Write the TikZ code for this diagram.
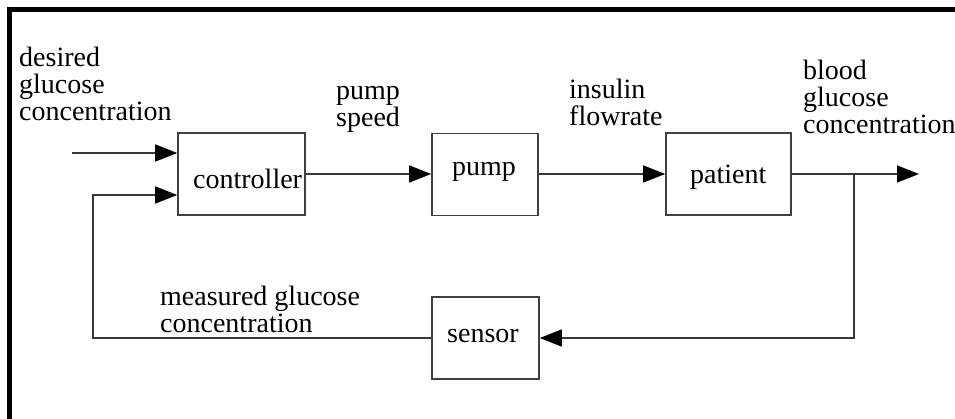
\documentclass[tikz,border=0pt]{standalone}
\usepackage{fontspec}
\setmainfont{Liberation Serif}
\usetikzlibrary{arrows.meta}
\begin{document}
\begin{tikzpicture}[x=1pt,y=-1pt,
  blk/.style={draw=black!75, line width=1.6pt, inner sep=0pt, minimum height=82pt},
  txt/.style={font=\fontsize{28}{27}\selectfont, inner sep=0pt, anchor=base west, align=left, text=black},
  wire/.style={draw=black!78, line width=1.5pt},
  arr/.style={wire, -{Triangle[length=22pt,width=17pt,color=black]}}]
\useasboundingbox (0,0) rectangle (955,419);
\fill[white] (0,0) rectangle (955,419);
% frame (top and left only)
\draw[line width=4.5pt, black, line join=miter] (955,9.5) -- (9.5,9.5) -- (9.5,419);
% blocks
\node[blk, minimum width=127pt] (controller) at (241.5,174) {};
\node[blk, minimum width=106pt] (pump) at (485,174.5) {};
\node[blk, minimum width=125pt] (patient) at (728.5,174) {};
\node[blk, minimum width=107pt] (sensor) at (485.5,338) {};
% block texts
\node[txt] (ctrltext) at (193,189) {controller};
\node[txt] (pumptext) at (452,176) {pump};
\node[txt] (patienttext) at (690,184) {patient};
\node[txt] (sensortext) at (447,342) {sensor};
% signal labels (anchor = baseline of last line)
\node[txt] (desired) at (19,121) {desired\\glucose\\concentration};
\node[txt] (speed) at (336,127) {pump\\speed};
\node[txt] (flow) at (569,126) {insulin\\flowrate};
\node[txt] (blood) at (803,134) {blood\\glucose\\concentration};
\node[txt] (measured) at (160,333) {measured glucose\\concentration};
% connectors
\coordinate (in) at (72,153);
\coordinate (fb) at (93,195);
\coordinate (out) at (919,174);
\coordinate (branch) at (854,174);
\draw[arr] (in) -- (in -| controller.west);
\draw[arr] (sensor.west) -| (fb) -- (fb -| controller.west);
\draw[arr] (controller.east) -- (controller.east -| pump.west);
\draw[arr] (pump.east |- controller.east) -- (controller.east -| patient.west);
\draw[arr] (patient.east) -- (out);
\draw[arr] (branch) |- (sensor.east);
\end{tikzpicture}
\end{document}
